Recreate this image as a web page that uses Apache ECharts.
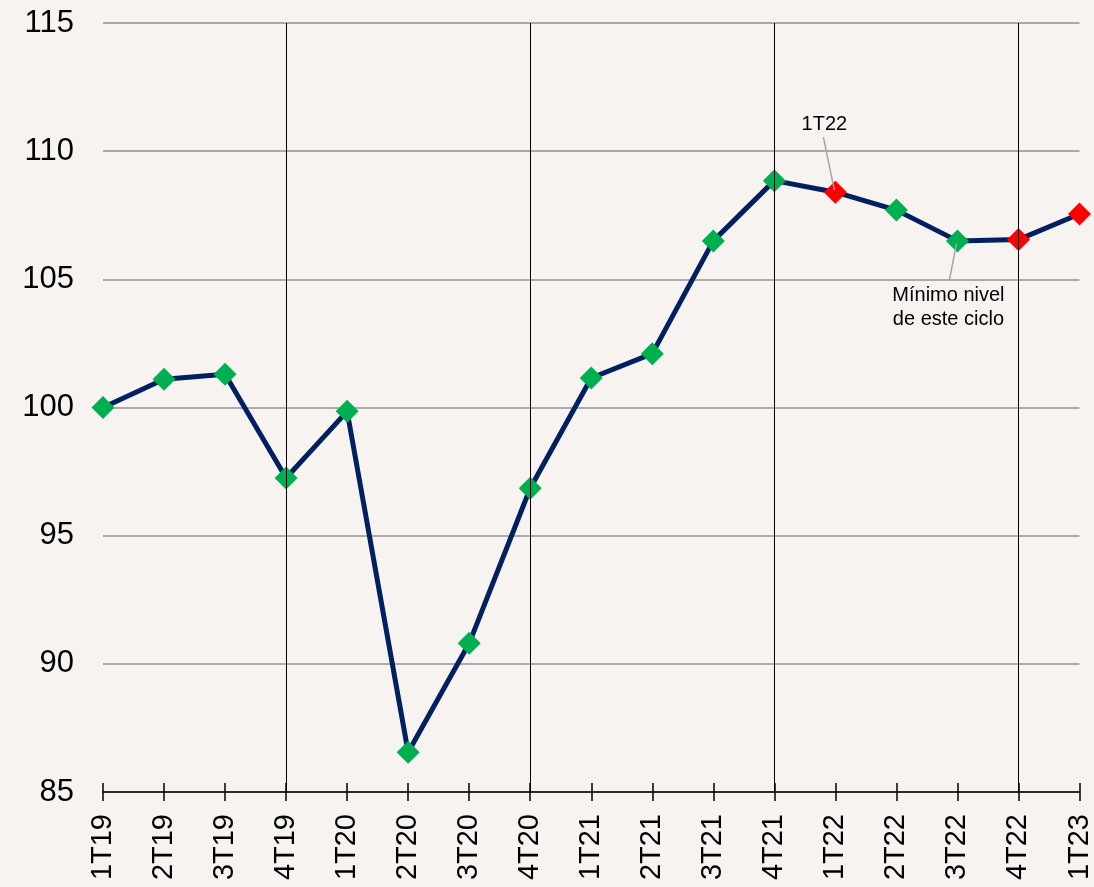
<!doctype html>
<html>
<head>
<meta charset="utf-8">
<title>Indice trimestral</title>
<style>
	html,body{margin:0;padding:0;background:#f6f3f0;}
	#lineChart{width:1094px;height:887px;}
</style>
</head>
<body>
	<div id="lineChart"></div>
	<script src="https://cdn.jsdelivr.net/npm/echarts@6/dist/echarts.min.js"></script>
	<script type="text/javascript">
	// datos
	var categories = ['1T19','2T19','3T19','4T19','1T20','2T20','3T20','4T20','1T21','2T21','3T21','4T21','1T22','2T22','3T22','4T22','1T23'];
	var values = [100.0,101.1,101.3,97.25,99.85,86.55,90.8,96.85,101.15,102.1,106.5,108.85,108.4,107.7,106.5,106.55,107.55];
	var redPoints = ['1T22','4T22','1T23'];
	var yearMarks = ['4T19','4T20','4T21','4T22'];
	var yTicks = {min:85, max:115, interval:5};

	var chart = echarts.init(document.getElementById('lineChart'));
	var seriesData = values.map(function(v,i){
		var red = redPoints.indexOf(categories[i]) > -1;
		return {value:v, itemStyle:{color: red ? '#ff0000' : '#00b050'}};
	});

	var option = {
		backgroundColor:'#f6f3f0',
		animation:false,
		grid:{left:103,right:14,top:23,bottom:95},
		xAxis:[{
			type:'category',
			data:categories,
			boundaryGap:false,
			axisLine:{lineStyle:{color:'#000',width:1.5}},
			axisTick:{length:9,lineStyle:{color:'#000',width:1.5}},
			axisLabel:{rotate:90,color:'#000',fontSize:29,fontFamily:'Liberation Sans',margin:22},
			splitLine:{show:false}
		},{
			type:'category',
			data:categories,
			boundaryGap:false,
			position:'bottom',
			axisLine:{show:false},
			axisTick:{inside:true,length:9,lineStyle:{color:'#000',width:1.5}},
			axisLabel:{show:false}
		}],
		yAxis:{
			type:'value',
			min:yTicks.min,max:yTicks.max,interval:yTicks.interval,
			axisLine:{show:false},
			axisTick:{show:false},
			axisLabel:{color:'#000',fontSize:31,fontFamily:'Liberation Sans',margin:29},
			splitLine:{lineStyle:{color:'#aaaaaa',width:2}}
		},
		series:[{
			type:'line',
			data:seriesData,
			symbol:'diamond',
			symbolSize:23,
			z:3,
			lineStyle:{color:'#002060',width:5},
			markLine:{
				silent:true,
				symbol:'none',
				label:{show:false},
				lineStyle:{color:'#000',width:1,type:'solid'},
				data:yearMarks.map(function(c){return {xAxis:c};})
			}
		}]
	};
	chart.setOption(option);

	// anotaciones
	var p1 = chart.convertToPixel({xAxisIndex:0,yAxisIndex:0},['1T22',values[12]]);
	var p2 = chart.convertToPixel({xAxisIndex:0,yAxisIndex:0},['3T22',values[14]]);
	chart.setOption({
		graphic:[
			{type:'line',shape:{x1:p1[0]-12,y1:p1[1]-55,x2:p1[0]-1,y2:p1[1]-2},style:{stroke:'#a6a6a6',lineWidth:1.5},z:10},
			{type:'text',x:p1[0]-11,y:p1[1]-58,style:{text:'1T22',fill:'#000',font:'20px "Liberation Sans"',textAlign:'center',textVerticalAlign:'bottom'},z:10},
			{type:'line',shape:{x1:p2[0]-1,y1:p2[1]+3,x2:p2[0]-8,y2:p2[1]+39},style:{stroke:'#a6a6a6',lineWidth:1.5},z:10},
			{type:'text',x:p2[0]-9,y:p2[1]+43,style:{text:'Mínimo nivel\nde este ciclo',fill:'#000',font:'20px "Liberation Sans"',lineHeight:24,textAlign:'center',textVerticalAlign:'top'},z:10}
		]
	});
	</script>
</body>
</html>
